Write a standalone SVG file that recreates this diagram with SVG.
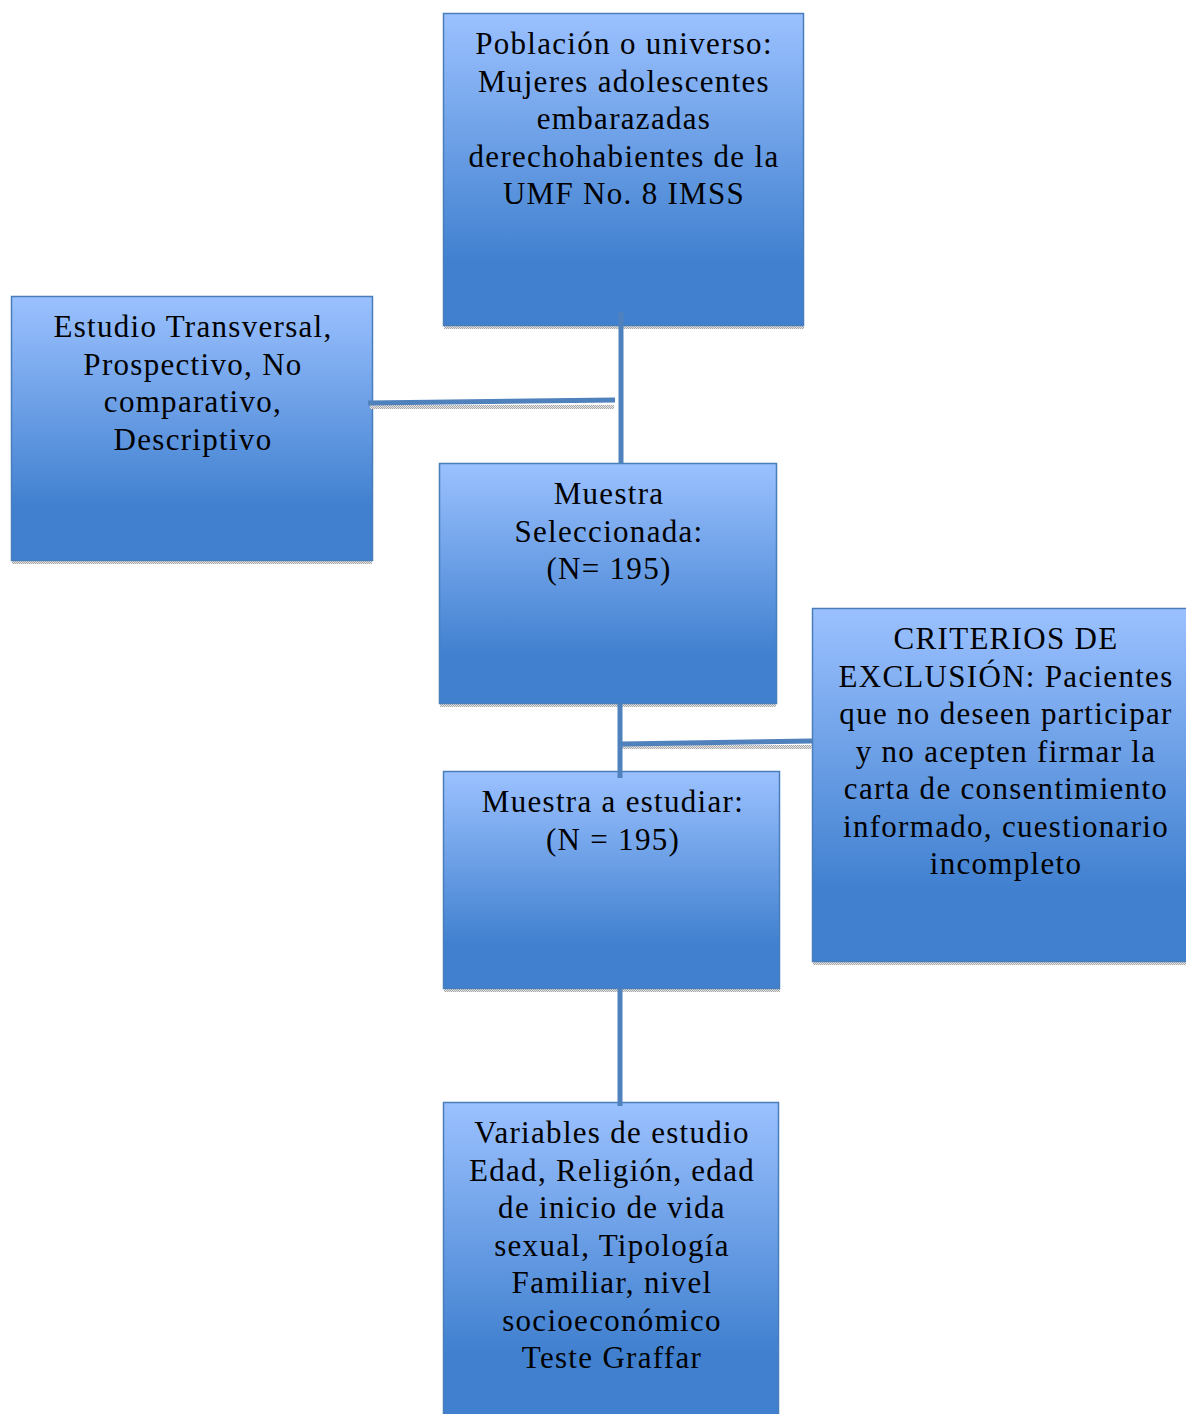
<svg xmlns="http://www.w3.org/2000/svg" width="1186" height="1414" viewBox="0 0 1186 1414">
<defs>
<linearGradient id="g" x1="0" y1="0" x2="0" y2="1">
<stop offset="0" stop-color="#9bc1ff"/>
<stop offset="0.8" stop-color="#4080cf"/>
<stop offset="1" stop-color="#4080cf"/>
</linearGradient>
<pattern id="sh" width="2" height="2" patternUnits="userSpaceOnUse">
<rect width="2" height="2" fill="#e6e6e6"/>
<rect width="1" height="1" fill="#a8a8a8"/>
<rect x="1" y="1" width="1" height="1" fill="#a8a8a8"/>
</pattern>
</defs>
<style>
.box{fill:url(#g);stroke:#4a7ebb;stroke-width:1.5}
.shd{fill:url(#sh)}
.t{font-family:"Liberation Serif","DejaVu Serif",serif;font-size:31px;letter-spacing:1.3px;fill:#000;text-anchor:middle}
.c{stroke:#4f81bd;stroke-width:5;fill:none}
</style>
<rect width="1186" height="1414" fill="#fff"/>
<g id="n1">
<rect class="shd" x="444" y="326" width="360" height="3"/>
<rect class="box" x="443.5" y="13.5" width="360" height="312"/>
<text class="t"><tspan x="624" y="54">Población o universo:</tspan><tspan x="624" y="92">Mujeres adolescentes</tspan><tspan x="624" y="129">embarazadas</tspan><tspan x="624" y="167">derechohabientes de la</tspan><tspan x="624" y="204">UMF No. 8 IMSS</tspan></text>
</g>
<g id="n2">
<rect class="shd" x="12" y="561" width="360" height="3"/>
<rect class="box" x="11.5" y="296.5" width="361" height="264"/>
<text class="t"><tspan x="193" y="337">Estudio Transversal,</tspan><tspan x="193" y="375">Prospectivo, No</tspan><tspan x="193" y="412">comparativo,</tspan><tspan x="193" y="450">Descriptivo</tspan></text>
</g>
<g id="n3">
<rect class="shd" x="440" y="704" width="336" height="3"/>
<rect class="box" x="439.5" y="463.5" width="337" height="240"/>
<text class="t"><tspan x="609" y="504">Muestra</tspan><tspan x="609" y="542">Seleccionada:</tspan><tspan x="609" y="579">(N= 195)</tspan></text>
</g>
<g id="n4">
<rect class="shd" x="813" y="962" width="373" height="3"/>
<rect class="box" x="812.5" y="608.5" width="376" height="353"/>
<text class="t"><tspan x="1006" y="649">CRITERIOS DE</tspan><tspan x="1006" y="687">EXCLUSIÓN: Pacientes</tspan><tspan x="1006" y="724">que no deseen participar</tspan><tspan x="1006" y="762">y no acepten firmar la</tspan><tspan x="1006" y="799">carta de consentimiento</tspan><tspan x="1006" y="837">informado, cuestionario</tspan><tspan x="1006" y="874">incompleto</tspan></text>
</g>
<g id="n5">
<rect class="shd" x="444" y="989" width="336" height="3"/>
<rect class="box" x="443.5" y="771.5" width="336" height="217"/>
<text class="t"><tspan x="613" y="812">Muestra a estudiar:</tspan><tspan x="613" y="850">(N = 195)</tspan></text>
</g>
<g id="n6">
<rect class="box" x="443.5" y="1102.5" width="335" height="313"/>
<text class="t"><tspan x="612" y="1143">Variables de estudio</tspan><tspan x="612" y="1181">Edad, Religión, edad</tspan><tspan x="612" y="1218">de inicio de vida</tspan><tspan x="612" y="1256">sexual, Tipología</tspan><tspan x="612" y="1293">Familiar, nivel</tspan><tspan x="612" y="1331">socioeconómico</tspan><tspan x="612" y="1368">Teste Graffar</tspan></text>
</g>
<g id="connectors">
<rect class="shd" x="370" y="405" width="244" height="4"/>
<rect class="shd" x="622" y="745" width="190" height="4"/>
<line class="c" x1="621" y1="312" x2="621" y2="463"/>
<line class="c" x1="368" y1="403" x2="615" y2="400"/>
<line class="c" x1="620" y1="704" x2="620" y2="778"/>
<line class="c" x1="622" y1="744" x2="812" y2="741"/>
<line class="c" x1="620" y1="989" x2="620" y2="1106"/>
</g>
</svg>
